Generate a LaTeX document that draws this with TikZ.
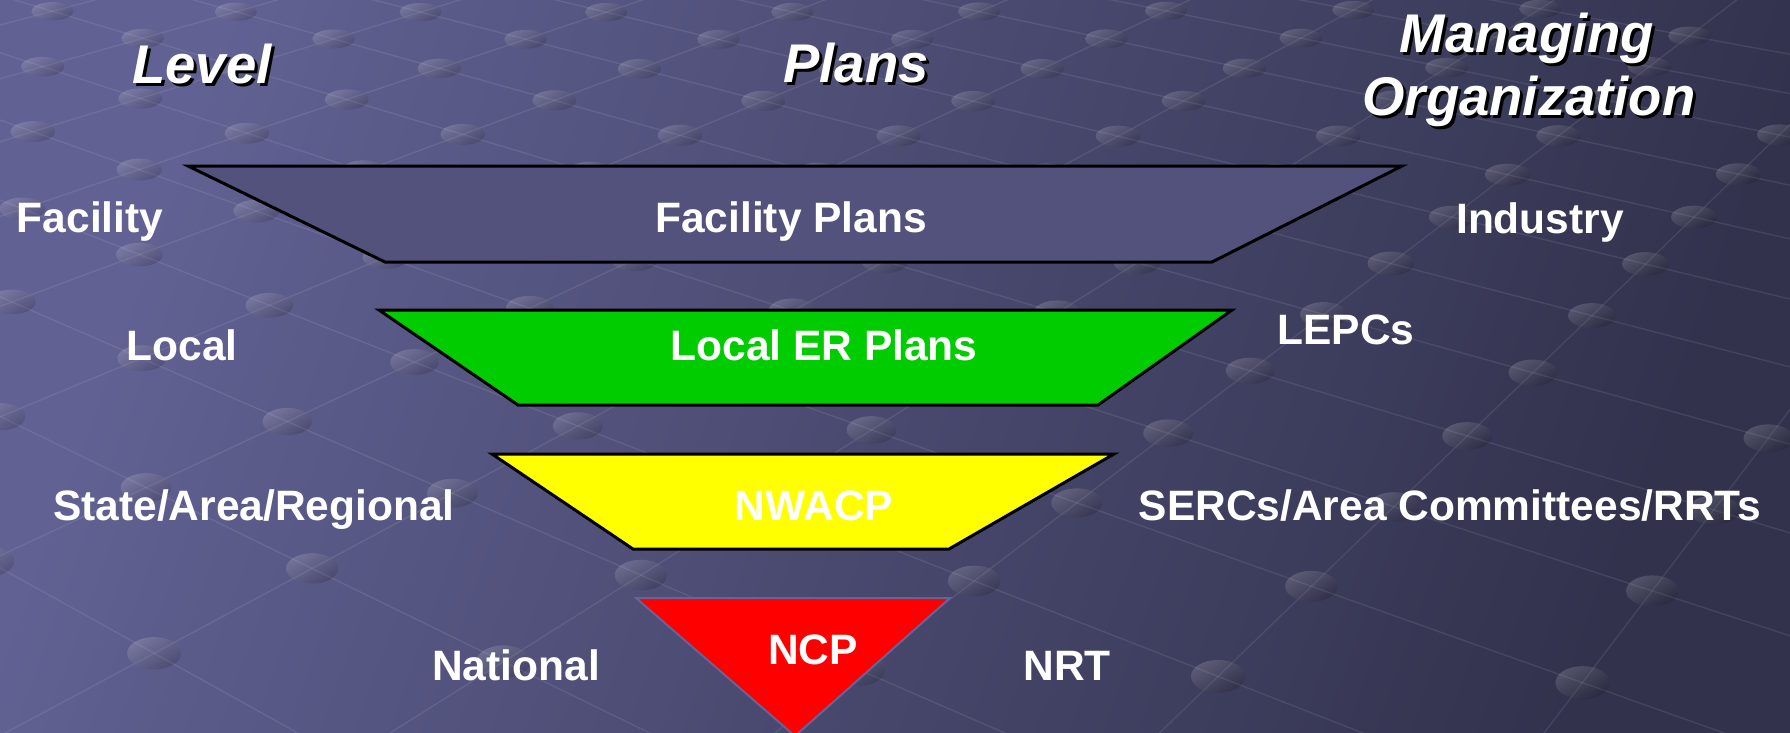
\documentclass[tikz,border=0pt]{standalone}
\usepackage{fontspec}
\setmainfont{Liberation Sans}
\usetikzlibrary{calc}
\definecolor{bgA}{RGB}{97,97,147}
\definecolor{bgB}{RGB}{50,50,77}
\definecolor{facfill}{RGB}{82,82,124}
\definecolor{grn}{RGB}{0,204,0}
\definecolor{ylw}{RGB}{255,255,0}
\definecolor{rd}{RGB}{255,0,0}
\definecolor{rdedge}{RGB}{100,100,152}
\begin{document}
\begin{tikzpicture}[x=1pt,y=-1pt,
  lbl/.style={text=white, font=\bfseries\fontsize{42.5pt}{50pt}\selectfont, anchor=base, inner sep=0pt},
  hdr/.style={text=white, font=\bfseries\itshape\fontsize{54.5pt}{60pt}\selectfont, anchor=base, inner sep=0pt},
  hdrsh/.style={hdr, text=black},
  tier/.style={draw=black, line width=3pt, line join=miter},
  latline/.style={draw=white, opacity=0.085, line width=1.4pt},
  sphere/.style={top color=white, bottom color=black, shading angle=30, opacity=0.16}
]
\useasboundingbox (0,0) rectangle (1790,732);
\shade[top color=bgA, bottom color=bgB, shading angle=70] (0,0) rectangle (1790,732);

\begin{scope}
\clip (0,0) rectangle (1790,732);
\coordinate (V1) at (-2250,-680);
\coordinate (V2) at (2604,-661);
\foreach \j [count=\n] in {-3,...,11}{
  \pgfmathsetmacro\yo{(200-68.6*\j)/(1+0.0951*\j)}
  \coordinate (D\n) at (0,\yo);
  \draw[latline] (V1) -- ($(V1)!3!(D\n)$);
}
\foreach \k in {0,...,11}{
  \pgfmathsetmacro\xo{95+182.4*\k}
  \coordinate (A\k) at (\xo,0);
  \draw[latline] (V2) -- ($(V2)!5!(A\k)$);
}
\foreach \n in {1,...,15}{
  \foreach \k in {0,...,11}{
    \coordinate (S) at (intersection cs: first line={(V1)--(D\n)}, second line={(V2)--(A\k)});
    \shade[sphere] let \p1=(S) in (S) ellipse [x radius={21pt+0.009*abs(\y1)}, y radius={9pt+0.011*abs(\y1)}];
  }
}
\end{scope}

% tiers
\draw[tier, fill=facfill] (188,166) -- (1402,166) -- (1212,262) -- (385,262) -- cycle;
\draw[tier, fill=grn] (379,310) -- (1232,310) -- (1098,405) -- (518,405) -- cycle;
\draw[tier, fill=ylw] (492,454) -- (1114,454) -- (949,549) -- (633,549) -- cycle;
\begin{scope}
\clip (0,0) rectangle (1790,732);
\draw[draw=rdedge, line width=2pt, fill=rd, line join=miter] (636,598) -- (950,598) -- (795,736) -- cycle;
\end{scope}

% headers
\node[hdrsh] (levelsh) at (205,86) {Level};
\node[hdr] (level) at (202,83) {Level};
\node[hdrsh] (planssh) at (859,85) {Plans};
\node[hdr] (plans) at (856,82) {Plans};
\node[hdrsh] (mansh) at (1530,55) {Managing};
\node[hdr] (man) at (1527,52) {Managing};
\node[hdrsh] (orgsh) at (1532,118) {Organization};
\node[hdr] (org) at (1529,115) {Organization};

% labels
\node[lbl] (facility) at (90,232) {Facility};
\node[lbl] (facplans) at (791,232) {Facility Plans};
\node[lbl] (industry) at (1540,233) {Industry};
\node[lbl] (local) at (182,360) {Local};
\node[lbl] (localer) at (824,360) {Local ER Plans};
\node[lbl] (lepcs) at (1346,344) {LEPCs};
\node[lbl] (state) at (254,520) {State/Area/Regional};
\node[lbl] (nwacp) at (814,520) {NWACP};
\node[lbl] (sercs) at (1450,520) {SERCs/Area Committees/RRTs};
\node[lbl] (national) at (516,680) {National};
\node[lbl] (ncp) at (813,664) {NCP};
\node[lbl] (nrt) at (1067,680) {NRT};
\end{tikzpicture}
\end{document}
